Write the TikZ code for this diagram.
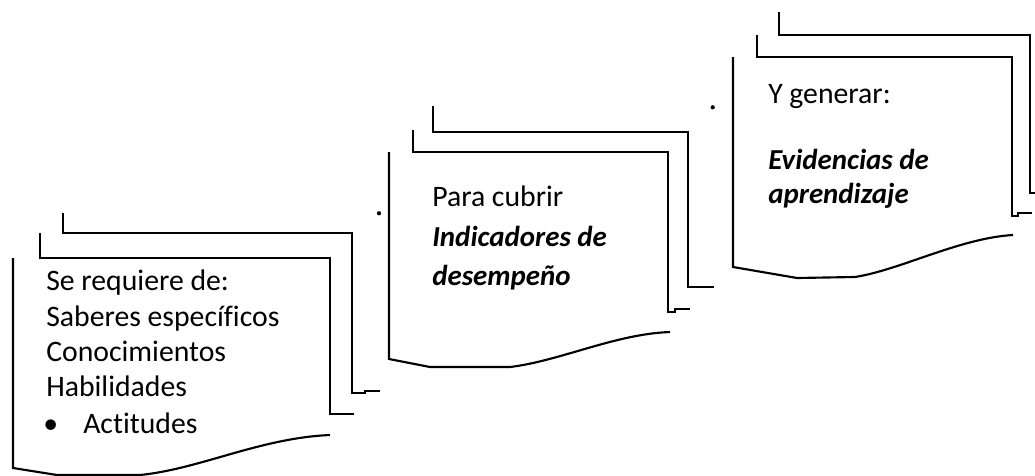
\documentclass[tikz,border=0pt]{standalone}
\usepackage{fontspec}
\setmainfont{Carlito}[Ligatures=CommonOff]
\begin{document}
\begin{tikzpicture}[x=0.75pt,y=-0.75pt,
  edge/.style={line width=1.6pt,line join=miter,line cap=butt},
  txt/.style={anchor=base west,inner sep=0pt,font=\fontsize{22.3}{27}\selectfont},
  btxt/.style={anchor=base west,inner sep=0pt,font=\fontsize{21.7}{26}\selectfont\bfseries\itshape},
  dotmark/.style={fill=black,inner sep=0pt,minimum size=3.2pt,circle}]
\useasboundingbox (0,0) rectangle (1035,475);
% ---------- group 1 ----------
\draw[edge] (63,213) -- (63,233) -- (352,233) -- (352,393) -- (365,393) -- (365,391) -- (380,391);
\draw[edge] (40,233) -- (40,258) -- (330,258) -- (330,414) -- (354,414);
\draw[edge] (13,258) -- (13,468) -- (57,475) -- (140,475) .. controls (200,469) and (260,438) .. (330,435);
\node[txt] (a1) at (46,290.7) {Se requiere de:};
\node[txt] (a2) at (46,326) {Saberes específicos};
\node[txt] (a3) at (46,361.7) {Conocimientos};
\node[txt] (a4) at (46,396.7) {Habilidades};
\node[txt] (a5b) at (43,433) {•};
\node[txt] (a5) at (83,433) {Actitudes};
\node[dotmark] (d1) at (379,213.3) {};
% ---------- group 2 ----------
\draw[edge] (433,106) -- (433,132) -- (688,132) -- (688,287) -- (714,287);
\draw[edge] (413,130) -- (413,152) -- (668,152) -- (668,312) -- (675,312) -- (675,309) -- (690,309);
\draw[edge] (389,152) -- (389,359) -- (430,367) -- (510,367) .. controls (560,361) and (615,334) .. (670,332);
\node[txt] (b1) at (432,206) {Para cubrir};
\node[btxt] (b2) at (432,246) {Indicadores de};
\node[btxt] (b3) at (432,285) {desempeño};
\node[dotmark] (d2) at (712.7,107.3) {};
% ---------- group 3 ----------
\draw[edge] (779,12) -- (779,35) -- (1030,35) -- (1030,193) -- (1035,193);
\draw[edge] (757,35) -- (757,57) -- (1012,57) -- (1012,216) -- (1018,216) -- (1018,213) -- (1032,213);
\draw[edge] (733,57) -- (733,267) -- (797,278) -- (855,277) .. controls (900,270) and (960,238) .. (1013,235);
\node[txt] (c1) at (768,103) {Y generar:};
\node[btxt] (c2) at (768,169) {Evidencias de};
\node[btxt] (c3) at (768,203) {aprendizaje};
\end{tikzpicture}
\end{document}
